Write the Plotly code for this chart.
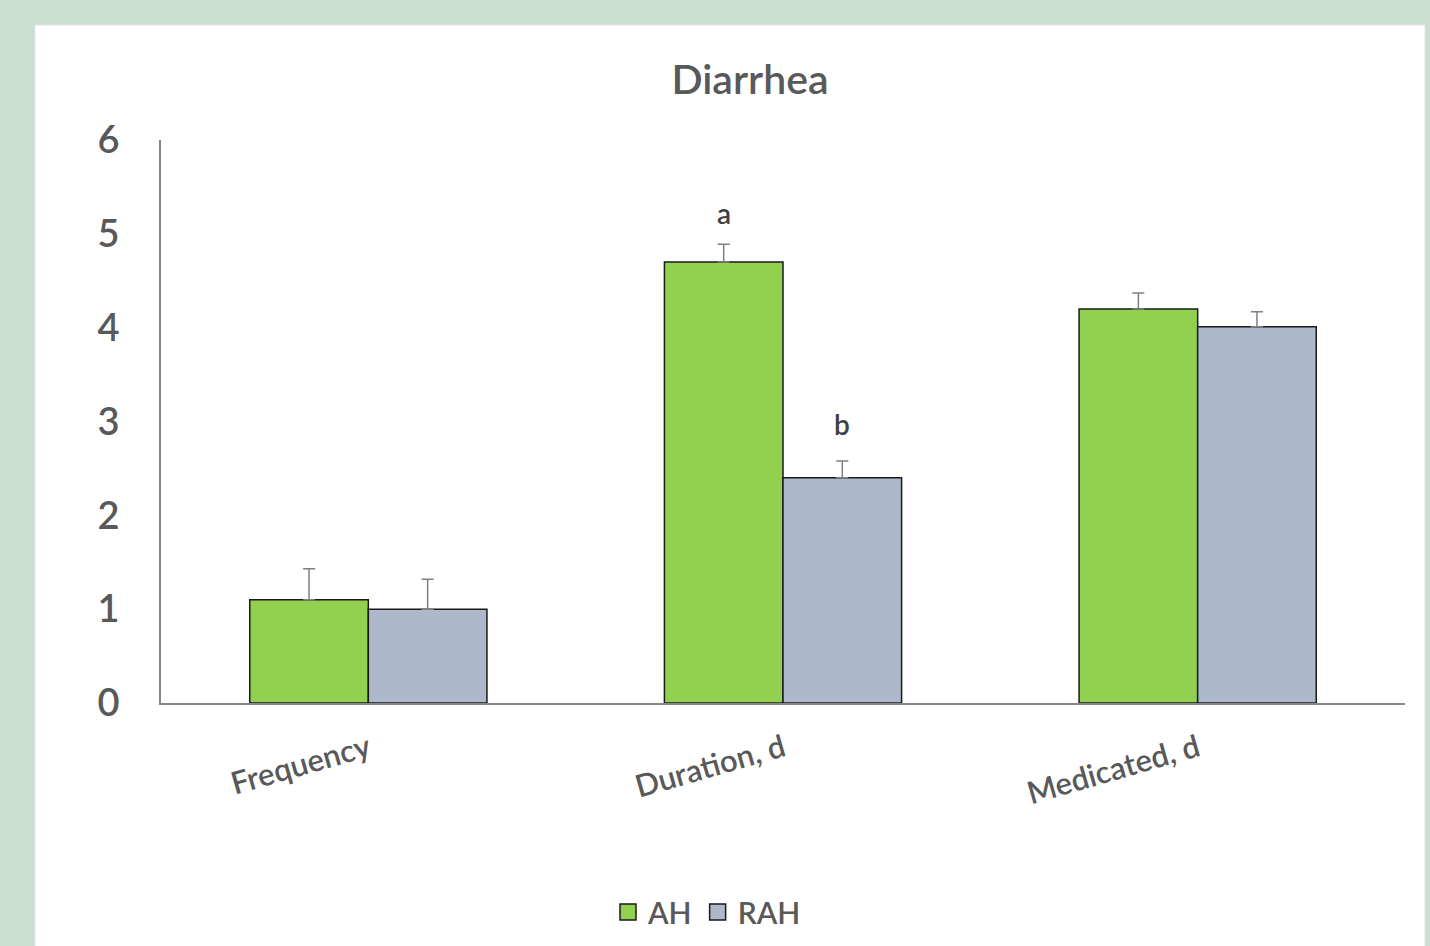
import plotly.graph_objects as go

categories = ["Frequency", "Duration, d", "Medicated, d"]
ah_values = [1.10, 4.70, 4.20]
ah_errors = [0.33, 0.19, 0.17]
rah_values = [1.00, 2.40, 4.01]
rah_errors = [0.32, 0.18, 0.16]
series_names = ["AH", "RAH"]
sig_category = "Duration, d"
sig_letters = ["a", "b"]
sig_y = [5.22, 2.97]
y_ticks = [0, 1, 2, 3, 4, 5, 6]

GREEN = "#92d050"
GREY_BLUE = "#adb9ca"
FONT = "Lato"
TXT = "#595959"

W, H = 1430, 946
L, R, T, B = 161, 25, 140, 243
pw = W - L - R
ph = H - T - B

def px_x(p):
    return (p - L) / pw

def px_y(p):
    return (H - B - p) / ph

fig = go.Figure()
for name, vals, errs, col in [
    (series_names[0], ah_values, ah_errors, GREEN),
    (series_names[1], rah_values, rah_errors, GREY_BLUE),
]:
    fig.add_trace(go.Bar(
        x=categories, y=vals, name=name, showlegend=False,
        marker=dict(color=col, line=dict(color="#1a1a1a", width=1.5)),
        error_y=dict(type="data", array=errs, arrayminus=[0] * len(errs),
                     symmetric=False, color="#7f7f7f", thickness=1.5, width=6),
    ))
    # legend entry
    fig.add_trace(go.Scatter(
        x=[None], y=[None], mode="markers", name=name,
        marker=dict(symbol="square", size=17, color=col,
                    line=dict(color="#1a1a1a", width=1.5)),
    ))

bar_w = pw / len(categories) * (1 - 0.428) / 2
for i, (letter, yv) in enumerate(zip(sig_letters, sig_y)):
    fig.add_annotation(x=sig_category, y=yv, text=letter, showarrow=False,
                       xshift=(-0.5 + i) * bar_w, yanchor="middle",
                       font=dict(family=FONT, size=28, color="#404040", weight=600))

# white panel
fig.add_shape(type="rect", xref="paper", yref="paper", layer="below",
              x0=px_x(35), x1=px_x(1425), y0=px_y(970), y1=px_y(25),
              fillcolor="white", line=dict(color="#e4e4e4", width=1))

fig.update_layout(
    width=W, height=H,
    margin=dict(l=L, r=R, t=T, b=B, pad=0, autoexpand=False),
    paper_bgcolor="#c9dfd1", plot_bgcolor="rgba(0,0,0,0)",
    barmode="group", bargap=0.428, bargroupgap=0,
    title=dict(text="Diarrhea", x=px_x(750), xref="paper", xanchor="center",
               y=1 - 80 / H, yanchor="middle",
               font=dict(family=FONT, size=41, color=TXT, weight=600)),
    xaxis=dict(showgrid=False, showline=True, linecolor="#868686", linewidth=1.5,
               tickangle=-16, ticks="", ticklabelstandoff=14, automargin=False,
               tickfont=dict(family=FONT, size=31, color=TXT, weight=600),
               range=[-0.5, 2.5], zeroline=False),
    yaxis=dict(showgrid=False, showline=True, linecolor="#868686", linewidth=1.5,
               range=[0, 6], tickvals=y_ticks, ticks="", ticklabelstandoff=32,
               automargin=False,
               tickfont=dict(family=FONT, size=38, color=TXT, weight=600), zeroline=False),
    legend=dict(orientation="h", x=px_x(707), xanchor="center",
                y=px_y(912), yanchor="middle",
                font=dict(family=FONT, size=30, color=TXT, weight=600),
                bgcolor="rgba(0,0,0,0)", itemwidth=30),
    showlegend=True,
)

fig.write_html("out.html")
